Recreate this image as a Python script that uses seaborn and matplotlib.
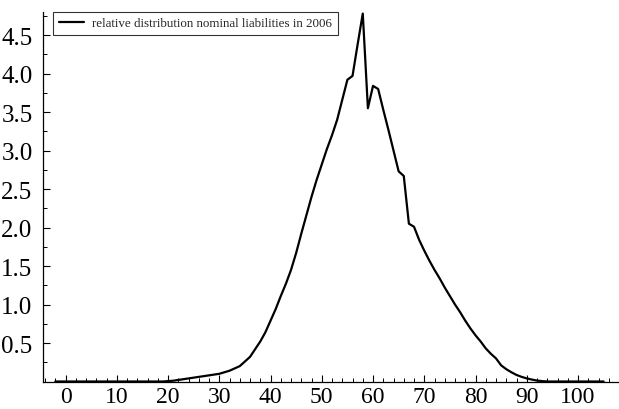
import matplotlib
matplotlib.use("Agg")
import matplotlib.pyplot as plt
from matplotlib.ticker import MultipleLocator, FixedLocator
import seaborn as sns
import pandas as pd
import numpy as np

# --- data ---
age = list(range(-2, 106))
zeros_left = [0.0] * 22  # -2 .. 19
rise = [0.005, 0.01, 0.02, 0.03, 0.04, 0.05, 0.06, 0.07, 0.08, 0.09,   # 20-29
        0.10, 0.12, 0.14, 0.17, 0.20, 0.26, 0.32, 0.42, 0.52, 0.64,    # 30-39
        0.79, 0.94, 1.11, 1.27, 1.45, 1.67, 1.92, 2.16, 2.40, 2.62,    # 40-49
        2.82, 3.02, 3.20, 3.40, 3.66, 3.92, 3.97, 4.38, 4.78, 3.55,    # 50-59
        3.84, 3.80, 3.53, 3.27, 3.00, 2.73, 2.67, 2.05, 2.01, 1.84,    # 60-69
        1.70, 1.57, 1.45, 1.34, 1.22, 1.11, 1.00, 0.90, 0.79, 0.69,    # 70-79
        0.60, 0.52, 0.43, 0.36, 0.30, 0.21, 0.16, 0.12, 0.085, 0.06,   # 80-89
        0.04, 0.025, 0.012, 0.005]                                     # 90-93
zeros_right = [0.0] * 12  # 94 .. 105
share = zeros_left + rise + zeros_right
series_label = "relative distribution nominal liabilities in 2006"

x_ticks = [0, 10, 20, 30, 40, 50, 60, 70, 80, 90, 100]
y_ticks = [0.5, 1.0, 1.5, 2.0, 2.5, 3.0, 3.5, 4.0, 4.5]

df = pd.DataFrame({"age": age, "share": share, "series": series_label})

sns.set_style("white")
plt.rcParams["font.family"] = ["Liberation Serif", "DejaVu Serif"]

fig = plt.figure(figsize=(6.19, 4.10), dpi=100)
ax = fig.add_axes([43 / 619, (410 - 382.5) / 410, 1 - 43 / 619, (382.5 - 13) / 410])

sns.lineplot(data=df, x="age", y="share", hue="series", palette=["black"],
             linewidth=1.6, ax=ax, legend=True)

ax.set_xlim(-4.4, 108.0)
ax.set_ylim(0, 4.8)
ax.set_xlabel("")
ax.set_ylabel("")

ax.xaxis.set_major_locator(FixedLocator(x_ticks))
ax.xaxis.set_minor_locator(MultipleLocator(2))
ax.yaxis.set_major_locator(FixedLocator(y_ticks))
ax.yaxis.set_minor_locator(MultipleLocator(0.25))
ax.set_xticklabels([str(v) for v in x_ticks])
ax.set_yticklabels([f"{v:.1f}" for v in y_ticks])

for side in ["top", "right"]:
    ax.spines[side].set_visible(False)
for side in ["left", "bottom"]:
    ax.spines[side].set_color("black")
    ax.spines[side].set_linewidth(0.9)

ax.tick_params(axis="both", which="major", direction="in", length=5, width=0.8,
               colors="black")
ax.tick_params(axis="x", which="major", pad=3, labelsize=17)
ax.tick_params(axis="y", which="major", pad=7.5, labelsize=18)
ax.tick_params(axis="both", which="minor", direction="in", length=3, width=0.7,
               colors="black")
ax.tick_params(axis="x", which="both", bottom=True)
ax.tick_params(axis="y", which="both", left=True)

leg = ax.legend(loc="upper left", bbox_to_anchor=(53 / 619, 1 - 12.5 / 410),
                bbox_transform=fig.transFigure, frameon=True, fancybox=False,
                fontsize=9.35, handlelength=1.9, borderpad=0.45,
                handletextpad=0.65, borderaxespad=0)
leg.get_frame().set_edgecolor("black")
leg.get_frame().set_linewidth(0.8)
for h in leg.get_lines():
    h.set_linewidth(1.6)

fig.savefig("out.png", dpi=100)
